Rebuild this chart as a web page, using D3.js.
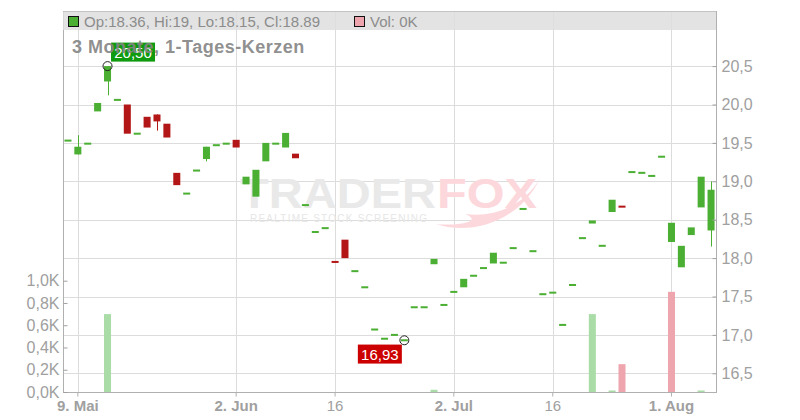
<!DOCTYPE html>
<html><head><meta charset="utf-8">
<script src="https://cdn.jsdelivr.net/npm/d3@7"></script>
<style>body{margin:0;background:#fff;}svg{display:block;font-family:Arial,"Liberation Sans",sans-serif;}</style>
</head><body><svg id="c" width="800" height="420"></svg>
<script>
const dates = ["2025-05-08","2025-05-09","2025-05-12","2025-05-13","2025-05-14","2025-05-15","2025-05-16","2025-05-19","2025-05-20","2025-05-21","2025-05-22","2025-05-23","2025-05-26","2025-05-27","2025-05-28","2025-05-29","2025-05-30","2025-06-02","2025-06-03","2025-06-04","2025-06-05","2025-06-06","2025-06-09","2025-06-10","2025-06-11","2025-06-12","2025-06-13","2025-06-16","2025-06-17","2025-06-18","2025-06-19","2025-06-20","2025-06-23","2025-06-24","2025-06-25","2025-06-26","2025-06-27","2025-06-30","2025-07-01","2025-07-02","2025-07-03","2025-07-04","2025-07-07","2025-07-08","2025-07-09","2025-07-10","2025-07-11","2025-07-14","2025-07-15","2025-07-16","2025-07-17","2025-07-18","2025-07-21","2025-07-22","2025-07-23","2025-07-24","2025-07-25","2025-07-28","2025-07-29","2025-07-30","2025-07-31","2025-08-01","2025-08-04","2025-08-05","2025-08-06","2025-08-07"];
const open  = [19.53,19.35,19.49,19.91,20.30,20.06,20.00,19.62,19.84,19.87,19.75,19.11,18.84,19.14,19.29,19.47,19.49,19.54,18.96,18.80,19.26,19.49,19.44,19.36,18.69,18.34,18.39,17.96,18.24,17.83,17.62,17.06,16.95,17.00,16.93,17.36,17.36,17.92,17.39,17.56,17.62,17.77,17.87,17.93,17.94,18.13,18.64,18.09,17.53,17.55,17.13,17.65,18.26,18.45,18.16,18.60,18.68,19.12,19.11,19.07,19.32,18.21,17.88,18.30,18.66,18.36];
const high  = [19.53,19.60,19.49,20.02,20.50,20.06,20.00,19.62,19.84,19.87,19.75,19.11,18.84,19.14,19.45,19.47,19.49,19.54,19.06,19.15,19.50,19.49,19.63,19.36,18.69,18.34,18.39,17.96,18.24,17.83,17.62,17.08,16.95,17.00,16.93,17.36,17.36,17.99,17.39,17.56,17.73,17.77,17.87,18.07,17.94,18.13,18.64,18.09,17.53,17.55,17.13,17.65,18.26,18.49,18.16,18.76,18.68,19.12,19.11,19.07,19.32,18.46,18.16,18.40,19.06,19.00];
const low   = [19.53,19.35,19.49,19.91,20.12,20.06,19.62,19.62,19.70,19.66,19.57,18.95,18.84,19.14,19.26,19.47,19.49,19.44,18.96,18.80,19.26,19.49,19.44,19.30,18.69,18.34,18.39,17.94,18.00,17.83,17.62,17.06,16.95,17.00,16.93,17.36,17.36,17.92,17.39,17.56,17.62,17.77,17.87,17.93,17.94,18.13,18.64,18.09,17.53,17.55,17.13,17.65,18.26,18.45,18.16,18.60,18.66,19.12,19.11,19.07,19.32,18.21,17.88,18.30,18.66,18.15];
const close = [19.53,19.45,19.49,20.02,20.50,20.06,19.62,19.62,19.70,19.78,19.57,18.95,18.84,19.14,19.45,19.47,19.49,19.44,19.06,19.15,19.50,19.49,19.63,19.30,18.69,18.34,18.39,17.94,18.00,17.83,17.62,17.08,16.95,17.00,16.93,17.36,17.36,17.99,17.39,17.56,17.73,17.77,17.87,18.07,17.94,18.13,18.64,18.09,17.53,17.55,17.13,17.65,18.26,18.49,18.16,18.76,18.66,19.12,19.11,19.07,19.32,18.46,18.16,18.40,19.06,18.89];
const volume = [0,0,0,0,0.70,0,0,0,0,0,0,0,0,0,0,0,0,0,0,0,0,0,0,0,0,0,0,0,0,0,0,0,0,0,0,0,0,0.02,0,0,0,0,0,0,0,0,0,0,0,0,0,0,0,0.70,0,0.01,0.25,0,0,0,0,0.90,0,0,0.01,0];
const priceTicks = [16.5,17.0,17.5,18.0,18.5,19.0,19.5,20.0,20.5];
const volTicks = [0,0.2,0.4,0.6,0.8,1.0];
const xTickDates = ["2025-05-09","2025-06-02","2025-06-16","2025-07-02","2025-07-16","2025-08-01"];
const xTickLabels = ["9. Mai","2. Jun","16","2. Jul","16","1. Aug"];
const xTickBold = [true,true,false,true,false,true];
const title = "3 Monate, 1-Tages-Kerzen";
const legendText = "Op:18.36, Hi:19, Lo:18.15, Cl:18.89";
const legendVol = "Vol: 0K";

const L = 63, R = 716, T = 11, B = 392;
const svg = d3.select("#c");
const fmt = v => d3.format(".1f")(v).replace(".", ",");
const fmt2 = v => d3.format(".2f")(v).replace(".", ",");

const x = d3.scaleBand().domain(dates).range([L, R]).paddingInner(0.29).paddingOuter(0.145);
const xc = d => x(d) + x.bandwidth() / 2;
const y = d3.scaleLinear().domain([16.5, 20.5]).range([373.3, 66.1]);
const yv = d3.scaleLinear().domain([0, 1]).range([B, 280.7]);

const green = "#4aaf32", red = "#b31616";
const data = dates.map((d, i) => ({d, o: open[i], h: high[i], l: low[i], c: close[i], v: volume[i], pc: i ? close[i-1] : open[i]}));

// gridlines
svg.append("g").selectAll("line").data(priceTicks).join("line")
  .attr("x1", L).attr("x2", R).attr("y1", d => Math.round(y(d)) + 0.5).attr("y2", d => Math.round(y(d)) + 0.5)
  .attr("stroke", "#dcdcdc");
svg.append("g").selectAll("line").data(xTickDates).join("line")
  .attr("x1", d => Math.round(xc(d)) + 0.5).attr("x2", d => Math.round(xc(d)) + 0.5).attr("y1", T).attr("y2", B)
  .attr("stroke", "#dcdcdc");

// watermark
const wm = svg.append("g");
wm.append("text").attr("x", 240).attr("y", 208).attr("font-size", 43).attr("font-weight", 900)
  .attr("fill", "#e9e9e9").attr("textLength", 196).attr("lengthAdjust", "spacingAndGlyphs").text("TRADER");
wm.append("text").attr("x", 437).attr("y", 208).attr("font-size", 43).attr("font-weight", 900)
  .attr("fill", "#fcd8dc").attr("textLength", 100).attr("lengthAdjust", "spacingAndGlyphs").text("FOX");
wm.append("path").attr("d", "M436,224 C470,236 520,222 540,178 C525,205 495,218 465,214 C485,222 455,226 436,224 Z")
  .attr("fill", "#fcd8dc");
wm.append("text").attr("x", 250).attr("y", 222).attr("font-size", 10).attr("fill", "#e6e6e6")
  .attr("textLength", 177).attr("lengthAdjust", "spacing").text("REALTIME STOCK SCREENING");

// volume bars
const bw = x.bandwidth();
svg.append("g").selectAll("rect").data(data.filter(d => d.v > 0)).join("rect")
  .attr("x", d => x(d.d)).attr("width", bw)
  .attr("y", d => Math.min(yv(d.v), B - 1.5)).attr("height", d => Math.max(B - yv(d.v), 1.5))
  .attr("fill", d => d.c >= d.pc ? "#aadca8" : "#eea5ae");

// candles
const cg = svg.append("g");
data.forEach(d => {
  const col = d.c >= d.o ? green : red;
  const cx = Math.round(xc(d.d)) + 0.5;
  if (d.h > Math.max(d.o, d.c) || d.l < Math.min(d.o, d.c))
    cg.append("line").attr("x1", cx).attr("x2", cx).attr("y1", y(d.h)).attr("y2", y(d.l)).attr("stroke", col);
  const top = y(Math.max(d.o, d.c)), bot = y(Math.min(d.o, d.c));
  const hgt = Math.max(bot - top, 2);
  cg.append("rect").attr("x", xc(d.d) - bw / 2).attr("width", bw)
    .attr("y", (top + bot) / 2 - hgt / 2).attr("height", hgt).attr("fill", col);
});

// axes
svg.append("line").attr("x1", L + 0.5).attr("x2", L + 0.5).attr("y1", T).attr("y2", B).attr("stroke", "#b0b0b0");
svg.append("line").attr("x1", R + 0.5).attr("x2", R + 0.5).attr("y1", T).attr("y2", B).attr("stroke", "#b0b0b0");
svg.append("line").attr("x1", L).attr("x2", R + 1).attr("y1", B + 0.5).attr("y2", B + 0.5).attr("stroke", "#b0b0b0");

const ra = svg.append("g").attr("transform", `translate(${R + 0.5},0)`)
  .call(d3.axisRight(y).tickValues(priceTicks).tickFormat(fmt).tickSize(0).tickPadding(5));
ra.select(".domain").remove();
ra.selectAll("text").attr("font-size", 16).attr("fill", "#a0a0a0").attr("font-family", "Arial,'Liberation Sans',sans-serif");
ra.selectAll(".tick").append("line").attr("x1", -4).attr("x2", 0).attr("stroke", "#a0a0a0");

const la = svg.append("g").attr("transform", `translate(${L + 0.5},0)`)
  .call(d3.axisLeft(yv).tickValues(volTicks).tickFormat(v => fmt(v) + "K").tickSize(0).tickPadding(4));
la.select(".domain").remove();
la.selectAll("text").attr("font-size", 16).attr("fill", "#a0a0a0").attr("font-family", "Arial,'Liberation Sans',sans-serif");
la.selectAll(".tick").append("line").attr("x1", 0).attr("x2", 4).attr("stroke", "#a0a0a0");

const xa = svg.append("g").attr("transform", `translate(0,${B + 0.5})`)
  .call(d3.axisBottom(x).tickValues(xTickDates).tickFormat((d, i) => xTickLabels[i]).tickSize(4).tickPadding(4));
xa.select(".domain").remove();
xa.selectAll("line").attr("stroke", "#b0b0b0");
xa.selectAll("text").attr("font-size", 15).attr("fill", "#a0a0a0").attr("font-family", "Arial,'Liberation Sans',sans-serif")
  .attr("font-weight", (d, i) => xTickBold[i] ? "bold" : "normal");

// header legend bar
svg.append("rect").attr("x", L).attr("y", T).attr("width", R - L).attr("height", 19)
  .attr("fill", "#dedede").attr("fill-opacity", 0.85);
svg.append("line").attr("x1", L).attr("x2", R).attr("y1", T + 0.5).attr("y2", T + 0.5).attr("stroke", "#c4c4c4");
svg.append("rect").attr("x", 68.5).attr("y", 16.5).attr("width", 10).attr("height", 10).attr("fill", green).attr("stroke", "#111");
svg.append("text").attr("x", 84).attr("y", 26.5).attr("font-size", 15).attr("fill", "#8c8c8c").text(legendText);
svg.append("rect").attr("x", 354.5).attr("y", 16.5).attr("width", 10).attr("height", 10).attr("fill", "#eea5ae").attr("stroke", "#111");
svg.append("text").attr("x", 370).attr("y", 26.5).attr("font-size", 15).attr("fill", "#8c8c8c").text(legendVol);

// high / low markers
const hiIdx = d3.maxIndex(high), loIdx = d3.minIndex(low);
const hx = xc(dates[hiIdx]), hy = y(high[hiIdx]);
const lx = xc(dates[loIdx]), ly = y(low[loIdx]);
svg.append("rect").attr("x", hx + 3.5).attr("y", hy - 23.5).attr("width", 44).attr("height", 19).attr("fill", "#0f9a0f");
svg.append("text").attr("x", hx + 25.5).attr("y", hy - 8.5).attr("text-anchor", "middle").attr("font-size", 15).attr("fill", "#fff").text(fmt2(high[hiIdx]));
svg.append("circle").attr("cx", hx).attr("cy", hy).attr("r", 4.5).attr("fill", "none").attr("stroke", "#222");
svg.append("rect").attr("x", lx - 46.5).attr("y", ly + 4.3).attr("width", 44).attr("height", 19).attr("fill", "#cc0000");
svg.append("text").attr("x", lx - 24.5).attr("y", ly + 19.3).attr("text-anchor", "middle").attr("font-size", 15).attr("fill", "#fff").text(fmt2(low[loIdx]));
svg.append("circle").attr("cx", lx).attr("cy", ly).attr("r", 4.5).attr("fill", "none").attr("stroke", "#222");

// title
svg.append("text").attr("x", 72).attr("y", 53).attr("font-size", 18).attr("font-weight", "bold")
  .attr("fill", "#858585").attr("fill-opacity", 0.92).attr("letter-spacing", 0.5).text(title);
</script></body></html>
